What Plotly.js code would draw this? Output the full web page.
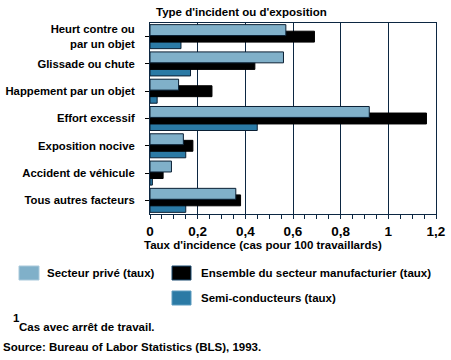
<!DOCTYPE html>
<html><head><meta charset="utf-8">
<script src="https://cdn.plot.ly/plotly-3.0.1.min.js"></script>
<style>html,body{margin:0;padding:0;background:#fff}#chart{width:451px;height:360px}</style>
</head><body><div id="chart"></div>
<script>
const categories = ["Heurt contre ou<br>par un objet","Glissade ou chute","Happement par un objet","Effort excessif","Exposition nocive","Accident de véhicule","Tous autres facteurs"];
const seriesNames = ["Secteur privé (taux)","Ensemble du secteur manufacturier (taux)","Semi-conducteurs (taux)"];
const prive = [0.57,0.56,0.12,0.92,0.14,0.09,0.36];
const manuf = [0.69,0.44,0.26,1.16,0.18,0.055,0.38];
const semi  = [0.13,0.17,0.03,0.45,0.15,0.01,0.15];
const xTickVals = [0,0.2,0.4,0.6,0.8,1,1.2];
const xTickText = ["0","0,2","0,4","0,6","0,8","1","1,2"];
const chartTitle = "Type d'incident ou d'exposition";
const xTitle = "Taux d'incidence (cas pour 100 travaillards)";
const footSup = "1";
const footNote = "Cas avec arrêt de travail.";
const source = "Source: Bureau of Labor Statistics (BLS), 1993.";

const C_LIGHT = '#80b0c9', C_BLACK = '#000000', C_DARK = '#2b7aa5', OUTLINE = '#0a1f33', NAVY = '#0c2742';
const W = 451, H = 360, ML = 150, MR = 15, MT = 23, MB = 146;
const PW = W - ML - MR, PH = H - MT - MB;
const px = v => (v - ML) / PW;
const py = v => (H - MB - v) / PH;
const BOLD = {family: 'Liberation Sans, Arial, sans-serif', size: 11.5, color: '#000', weight: 'bold'};

function bar(vals, color, offset, lineColor) {
  return {type: 'bar', orientation: 'h', x: vals, y: categories, width: 0.4, offset: offset,
    marker: {color: color, line: {color: lineColor, width: 1}}, hoverinfo: 'skip', showlegend: false};
}
const data = [
  bar(semi, C_DARK, 0.04, OUTLINE),
  bar(manuf, C_BLACK, -0.2, C_BLACK),
  bar(prive, C_LIGHT, -0.44, OUTLINE)
];

function txt(x, y, t, anchor, size) {
  return {xref: 'paper', yref: 'paper', x: px(x), y: py(y), text: t, showarrow: false,
    xanchor: anchor || 'left', yanchor: 'middle', font: Object.assign({}, BOLD, {size: size || 11.5})};
}
function swatch(x0, y0, x1, y1, color, lc) {
  return {type: 'rect', xref: 'paper', yref: 'paper', x0: px(x0), x1: px(x1), y0: py(y0), y1: py(y1),
    fillcolor: color, line: {color: lc, width: 1}};
}

const layout = {
  width: W, height: H, margin: {l: ML, r: MR, t: MT, b: MB},
  paper_bgcolor: '#fff', plot_bgcolor: '#fff', barmode: 'overlay', separators: ', ',
  xaxis: {range: [0, 1.2], tickvals: xTickVals, ticktext: xTickText, showgrid: true, gridcolor: NAVY, gridwidth: 1,
    zeroline: false, showline: true, linecolor: NAVY, linewidth: 1, mirror: true,
    ticks: 'outside', ticklen: 4, tickcolor: NAVY, ticklabelstandoff: 1,
    minor: {dtick: 0.05, tick0: 0, ticks: 'outside', ticklen: 4, tickcolor: NAVY, showgrid: false},
    tickfont: {family: 'Liberation Sans, Arial, sans-serif', size: 13.5, color: '#000', weight: 'bold'}},
  yaxis: {type: 'category', range: [6.5, -0.5], showgrid: false, zeroline: false, showline: true, linecolor: NAVY,
    linewidth: 1, mirror: true, ticks: 'outside', ticklen: 4, tickcolor: '#000', ticklabelstandoff: 8,
    tickfont: Object.assign({}, BOLD, {size: 11.3})},
  shapes: [
    swatch(19, 266, 39, 280, C_LIGHT, '#a9c9db'),
    swatch(172, 266, 191, 280, C_BLACK, '#1a4a70'),
    swatch(172, 291, 191, 305, C_DARK, '#5c9cc0')
  ],
  annotations: [
    txt(154, 12, chartTitle),
    txt(263, 245, xTitle, 'center'),
    txt(45, 273, seriesNames[0]),
    txt(199, 273, seriesNames[1]),
    txt(199, 298, seriesNames[2]),
    txt(11, 318, footSup),
    txt(17, 327, footNote),
    txt(1, 347, source)
  ]
};
Plotly.newPlot('chart', data, layout, {staticPlot: true});
</script></body></html>
